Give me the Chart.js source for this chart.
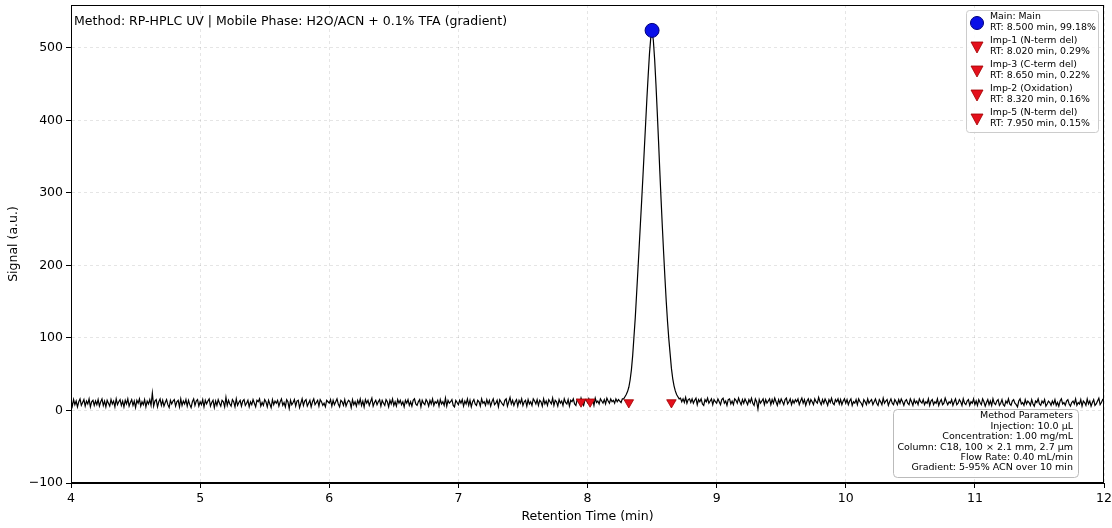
<!DOCTYPE html>
<html>
<head>
<meta charset="utf-8">
<script src="https://cdn.jsdelivr.net/npm/chart.js@4.4.0/dist/chart.umd.min.js"></script>
<style>
    html, body { margin: 0; padding: 0; background: #fff; }
    #wrap { width: 1112px; height: 528px; }
</style>
</head>
<body>
<div id="wrap"><canvas id="hplcChart"></canvas></div>
<script>
// sampled trace: one value every 0.01 min from 4.00 to 12.00
const timeStart = 4.0;
const timeStep = 0.01;
const signal = [
    14,6,15,8,13,5,12,16,7,11,15,6,13,9,16,5,12,14,7,13,
    8,15,6,12,16,7,13,5,14,10,6,15,9,13,5,16,8,12,15,7,
    13,5,14,9,16,6,11,15,7,13,4,14,10,16,6,12,8,15,5,13,
    9,15,7,24,6,13,15,5,12,16,7,14,6,11,15,8,4,14,9,13,
    15,6,12,14,5,16,7,13,9,15,6,14,8,4,12,16,7,13,15,6,
    12,8,15,5,14,9,13,16,6,11,14,4,13,7,15,10,6,14,12,5,
    18,7,14,9,6,15,12,5,16,7,11,14,6,13,15,7,10,14,5,12,
    8,15,10,5,14,12,16,6,11,7,15,12,5,14,9,4,15,8,13,10,
    14,6,12,16,7,11,5,15,12,3,14,8,11,15,6,13,14,4,10,16,
    7,13,15,6,10,14,5,12,16,8,11,14,6,15,12,7,10,5,14,12,
    10,15,6,14,8,12,16,9,5,14,12,7,15,6,11,14,12,4,15,8,
    12,6,14,9,16,7,13,5,15,10,14,7,12,17,6,11,14,8,12,15,
    6,14,10,7,15,12,5,14,9,16,7,12,6,15,10,14,8,12,5,14,
    10,15,7,12,6,14,16,9,7,12,15,5,14,10,8,15,12,6,14,9,
    16,7,12,10,14,6,15,9,12,7,17,6,14,10,12,15,7,5,14,11,
    8,14,10,15,6,13,9,16,7,14,5,12,15,9,7,14,12,6,16,10,
    12,7,15,9,14,6,12,16,8,10,14,5,15,12,9,7,14,16,6,12,
    18,9,14,7,12,15,6,14,10,16,7,12,14,6,15,9,12,7,16,13,
    9,15,7,14,12,6,16,9,13,7,15,12,9,17,7,14,12,6,15,10,
    13,7,16,11,9,15,6,14,12,16,9,7,15,13,9,17,11,7,14,15,
    11,16,9,14,15,7,17,11,13,9,16,13,10,15,9,17,13,10,16,12,
    14,10,16,12,15,13,11,16,16,19,22,26,32,42,56,76,102,128,160,192,
    225,258,291,325,360,395,430,462,492,514,524,510,484,450,412,372,330,290,252,216,
    182,150,122,98,78,58,44,34,27,22,19,16,17,12,16,11,18,10,15,16,
    11,16,10,14,17,8,15,12,16,9,7,15,12,17,10,13,16,8,15,12,
    10,16,12,8,15,17,10,13,7,15,16,9,13,8,16,14,10,17,12,8,
    15,10,16,12,8,15,11,17,10,7,16,12,2,15,10,13,16,8,15,10,
    13,16,8,15,10,17,12,7,15,10,16,12,8,15,17,9,12,16,8,14,
    10,15,12,16,8,13,17,10,15,7,13,16,9,15,12,8,16,12,10,18,
    12,8,15,10,16,12,7,15,11,17,10,8,15,12,16,9,15,8,13,16,
    10,15,8,13,16,7,12,10,15,8,16,12,10,6,15,12,8,16,10,13,
    15,8,12,16,10,7,15,12,8,17,10,13,15,7,12,16,10,8,15,12,
    8,15,10,16,12,7,13,15,10,8,16,12,7,15,10,13,8,16,12,10,
    15,8,12,10,16,7,13,15,8,12,10,16,7,12,15,8,10,17,12,8,
    12,10,15,7,12,16,8,10,15,12,7,16,10,8,13,15,7,12,10,16,
    8,13,7,15,11,8,16,12,6,11,15,8,13,7,16,10,8,13,15,7,
    10,15,8,6,13,10,16,9,7,13,15,10,8,5,13,16,9,11,7,15,
    9,13,11,7,15,9,6,13,11,16,9,7,13,10,15,6,9,13,11,7,
    13,9,15,7,11,6,13,16,9,11,7,13,15,9,6,11,13,9,16,7,
    11,9,15,6,13,11,7,16,9,13,6,11,15,7,9,13,17,8,11,15,
    13
];

// labelled peaks (legend order)
const peakNames = ['Main: Main', 'Imp-1 (N-term del)', 'Imp-3 (C-term del)', 'Imp-2 (Oxidation)', 'Imp-5 (N-term del)'];
const peakRT = [8.500, 8.020, 8.650, 8.320, 7.950];
const peakArea = [99.18, 0.29, 0.22, 0.16, 0.15];
const peakHeight = [524, 12, 11, 11, 12];

const headerText = 'Method: RP-HPLC UV | Mobile Phase: H2O/ACN + 0.1% TFA (gradient)';
const paramLines = [
    'Method Parameters',
    'Injection: 10.0 \u00b5L',
    'Concentration: 1.00 mg/mL',
    'Column: C18, 100 \u00d7 2.1 mm, 2.7 \u00b5m',
    'Flow Rate: 0.40 mL/min',
    'Gradient: 5-95% ACN over 10 min'
];

const FONT = "'DejaVu Sans', sans-serif";
const mainColor = '#0a10e8';
const mainEdge = '#00007a';
const impColor = '#e4101c';
const impEdge = '#a00000';

const traceData = signal.map((v, i) => ({ x: timeStart + i * timeStep, y: v }));
const mainPoint = [{ x: peakRT[0], y: peakHeight[0] }];
const impPoints = peakRT.slice(1).map((rt, i) => ({ x: rt, y: peakHeight[i + 1] }));

function roundRect(ctx, x, y, w, h, r) {
    ctx.beginPath();
    ctx.moveTo(x + r, y);
    ctx.lineTo(x + w - r, y);
    ctx.quadraticCurveTo(x + w, y, x + w, y + r);
    ctx.lineTo(x + w, y + h - r);
    ctx.quadraticCurveTo(x + w, y + h, x + w - r, y + h);
    ctx.lineTo(x + r, y + h);
    ctx.quadraticCurveTo(x, y + h, x, y + h - r);
    ctx.lineTo(x, y + r);
    ctx.quadraticCurveTo(x, y, x + r, y);
    ctx.closePath();
}

// frame, header text, legend and parameter box
const decorPlugin = {
    id: 'decor',
    afterDraw(chart) {
        const ctx = chart.ctx;
        const a = chart.chartArea;
        ctx.save();

        ctx.strokeStyle = '#000';
        ctx.lineWidth = 1;
        ctx.strokeRect(a.left + 0.5, a.top + 0.5, a.right - a.left - 1, a.bottom - a.top - 1);

        ctx.fillStyle = '#000';
        ctx.font = '12.5px ' + FONT;
        ctx.textBaseline = 'middle';
        ctx.textAlign = 'left';
        ctx.fillText(headerText, a.left + 3, 22);

        // legend
        roundRect(ctx, 966.5, 10.5, 132, 122, 3);
        ctx.fillStyle = 'rgba(255,255,255,0.85)';
        ctx.fill();
        ctx.strokeStyle = '#cccccc';
        ctx.stroke();
        ctx.font = '9.4px ' + FONT;
        for (let i = 0; i < peakNames.length; i++) {
            const y1 = 17 + i * 24;
            const my = y1 + 6;
            if (i === 0) {
                ctx.beginPath();
                ctx.arc(977, my, 6.5, 0, Math.PI * 2);
                ctx.fillStyle = mainColor;
                ctx.fill();
                ctx.strokeStyle = mainEdge;
                ctx.stroke();
            } else {
                ctx.beginPath();
                ctx.moveTo(971, my - 5);
                ctx.lineTo(983, my - 5);
                ctx.lineTo(977, my + 6);
                ctx.closePath();
                ctx.fillStyle = impColor;
                ctx.fill();
                ctx.strokeStyle = impEdge;
                ctx.lineWidth = 0.8;
                ctx.stroke();
                ctx.lineWidth = 1;
            }
            ctx.fillStyle = '#000';
            ctx.fillText(peakNames[i], 990, y1);
            ctx.fillText('RT: ' + peakRT[i].toFixed(3) + ' min, ' + peakArea[i].toFixed(2) + '%', 990, y1 + 11);
        }

        // method parameters
        roundRect(ctx, 893.5, 409.5, 185, 68, 4);
        ctx.fillStyle = 'rgba(255,255,255,0.85)';
        ctx.fill();
        ctx.strokeStyle = '#bbbbbb';
        ctx.stroke();
        ctx.fillStyle = '#000';
        ctx.textAlign = 'right';
        ctx.font = '9.5px ' + FONT;
        paramLines.forEach((t, i) => ctx.fillText(t, 1073, 416 + i * 10.4));

        ctx.restore();
    }
};

const ctx = document.getElementById('hplcChart').getContext('2d');
new Chart(ctx, {
    type: 'scatter',
    data: {
        datasets: [
            {
                label: 'main',
                data: mainPoint,
                pointStyle: 'circle',
                pointRadius: 7,
                backgroundColor: mainColor,
                borderColor: mainEdge,
                borderWidth: 1,
                order: 0
            },
            {
                label: 'impurities',
                data: impPoints,
                pointStyle: 'triangle',
                rotation: 180,
                pointRadius: 5.5,
                backgroundColor: impColor,
                borderColor: impEdge,
                borderWidth: 0.8,
                order: 1
            },
            {
                label: 'trace',
                data: traceData,
                showLine: true,
                borderColor: '#000',
                borderWidth: 1.2,
                pointRadius: 0,
                tension: 0,
                order: 2
            }
        ]
    },
    options: {
        responsive: true,
        maintainAspectRatio: false,
        animation: false,
        layout: { autoPadding: false, padding: { top: 5, right: 8, left: 0, bottom: 0 } },
        plugins: {
            legend: { display: false },
            tooltip: { enabled: false }
        },
        scales: {
            x: {
                type: 'linear',
                min: 4,
                max: 12,
                ticks: { stepSize: 1, color: '#000', font: { family: FONT, size: 12.5 }, padding: 3 },
                grid: { color: 'rgba(0,0,0,0.1)', tickColor: '#000', tickLength: 5, tickBorderDash: [] },
                border: { color: '#000', width: 1, dash: [3, 3] },
                title: { display: true, text: 'Retention Time (min)', color: '#000', font: { family: FONT, size: 12.5 }, padding: { top: 1 } },
                afterFit(scale) {
                    scale.height = 45;
                    scale.paddingLeft = 0;
                    scale.paddingRight = 0;
                }
            },
            y: {
                min: -100,
                max: 559,
                ticks: {
                    stepSize: 100, color: '#000', font: { family: FONT, size: 12.5 }, padding: 3,
                    callback: v => String(v).replace('-', '\u2212')
                },
                afterBuildTicks(scale) { scale.ticks = scale.ticks.filter(t => t.value % 100 === 0); },
                grid: { color: 'rgba(0,0,0,0.1)', tickColor: '#000', tickLength: 5, tickBorderDash: [] },
                border: { color: '#000', width: 1, dash: [3, 3] },
                title: { display: true, text: 'Signal (a.u.)', color: '#000', font: { family: FONT, size: 12.5 }, padding: { top: 6, bottom: 2 } },
                afterFit(scale) {
                    scale.width = 71;
                    scale.paddingTop = 0;
                    scale.paddingBottom = 0;
                }
            }
        }
    },
    plugins: [decorPlugin]
});
</script>
</body>
</html>
